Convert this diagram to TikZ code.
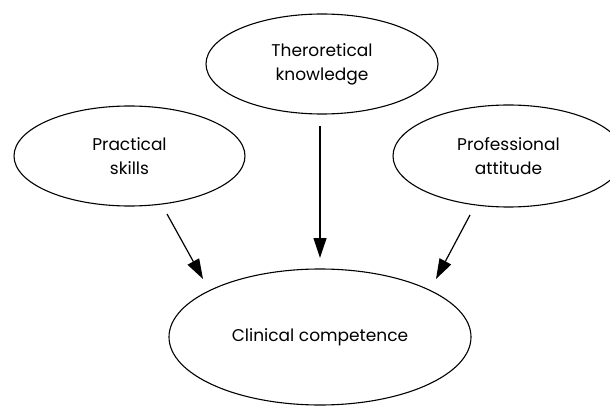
\documentclass[tikz,border=0pt]{standalone}
\usepackage{fontspec}
\setmainfont{Poppins}
\usetikzlibrary{shapes.geometric,arrows.meta}
\begin{document}
\begin{tikzpicture}[x=1pt,y=-1pt,
  oval/.style={draw,ellipse,line width=1.1pt,inner sep=0pt,align=center,
    font=\fontsize{17}{24}\selectfont},
  conn/.style={line width=1.2pt,-{Triangle[length=20pt,width=13pt]}}]
\useasboundingbox (0,0) rectangle (610,406);
\clip (0,0) rectangle (610,406);
\node[oval,minimum width=232pt,minimum height=100pt] (theory) at (322,64) {Theroretical\\knowledge};
\node[oval,minimum width=231pt,minimum height=100pt] (practical) at (129.5,156) {Practical\\skills};
\node[oval,minimum width=231pt,minimum height=102pt] (attitude) at (508.5,156) {Professional\\attitude};
\node[oval,minimum width=302pt,minimum height=136pt] (clinical) at (320,337) {Clinical competence};
\coordinate (ls) at (167,214);
\coordinate (le) at (203,279);
\coordinate (ms) at (320,126);
\coordinate (me) at (320,258);
\coordinate (rs) at (470,215);
\coordinate (re) at (436,279);
\draw[conn] (ls) -- (le);
\draw[conn] (ms) -- (me);
\draw[conn] (rs) -- (re);
\end{tikzpicture}
\end{document}
